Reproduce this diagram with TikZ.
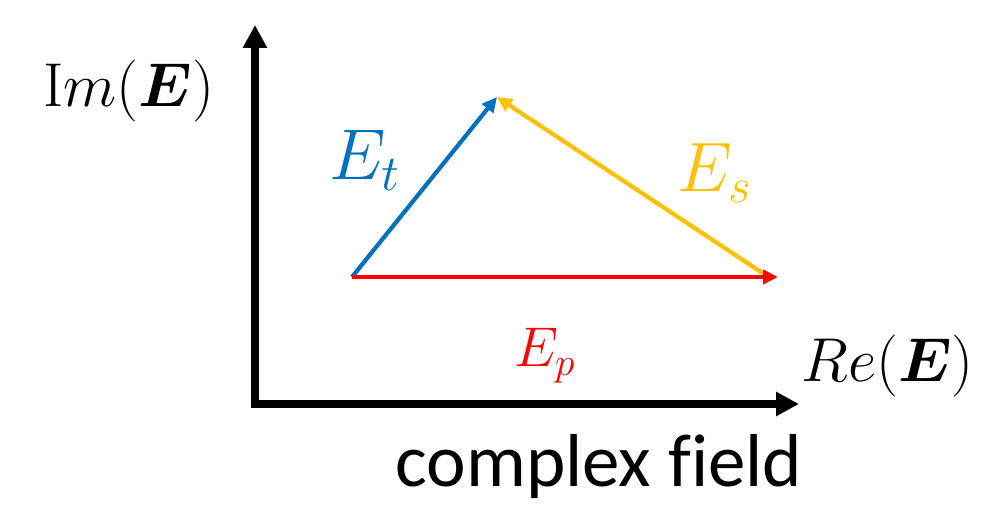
\RequirePackage{fix-cm}
\documentclass[tikz,border=0pt]{standalone}
\usepackage{bm}
\usepackage{fontspec}
\newfontfamily\calib[Ligatures=NoCommon]{Carlito}
\usetikzlibrary{arrows.meta}
\definecolor{eblue}{HTML}{0070C0}
\definecolor{eorange}{HTML}{FFC000}
\definecolor{ered}{HTML}{FF0000}
\tikzset{
  axisline/.style={line width=4.2pt, miter limit=10, -{Triangle[length=11.5pt,width=11.5pt]}},
  vec/.style={line width=2.1pt, -{Triangle[length=7.5pt,width=7pt]}},
  lbl/.style={inner sep=0pt, anchor=base},
}
\begin{document}
\begin{tikzpicture}[x=0.5pt,y=-0.5pt]
\useasboundingbox (0,0) rectangle (985,507);
% axes
\coordinate (ytip) at (255,25);
\coordinate (orig) at (255,404);
\coordinate (xtip) at (799,404);
\coordinate (xstart) at (251,404);
\draw[axisline] (orig) -- (ytip);
\draw[line width=4.2pt] (255,408.2) -- (orig);
\draw[axisline] (xstart) -- (xtip);
% vectors
\coordinate (O) at (352,277);
\coordinate (A) at (497,97);
\coordinate (B) at (778,277);
\coordinate (S) at (767,276);
\draw[vec, eorange] (S) -- (A);
\draw[vec, eblue] (O) -- (A);
\draw[vec, ered] (O) -- (B);
% labels
\node[lbl, font=\fontsize{36}{40}\selectfont, text=eblue] (Et) at (365,180) {$E_t$};
\node[lbl, font=\fontsize{35}{40}\selectfont, text=eorange] (Es) at (715,192) {$E_s$};
\node[lbl, font=\fontsize{28}{32}\selectfont, text=ered] (Ep) at (545,367) {$E_p$};
\node[lbl, font=\fontsize{31}{34}\selectfont] (Im) at (129,107) {$\mathrm{I}m(\bm{E})$};
\node[lbl, anchor=base west, font=\fontsize{31}{34}\selectfont] (Re) at (801,382) {$Re(\bm{E})$};
\node[lbl, font=\fontsize{37.5}{40}\selectfont\calib] (cf) at (599,487) {complex field};
\end{tikzpicture}
\end{document}
